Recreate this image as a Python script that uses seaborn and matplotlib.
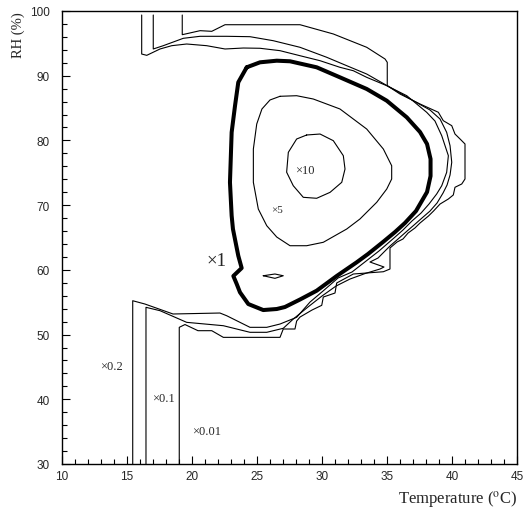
import numpy as np
import pandas as pd
import matplotlib
matplotlib.use("Agg")
import matplotlib.pyplot as plt
import seaborn as sns
from matplotlib.ticker import MultipleLocator

# ---------------- data ----------------
# axis ticks
x_ticks = [10, 15, 20, 25, 30, 35, 40, 45]
y_ticks = [30, 40, 50, 60, 70, 80, 90, 100]

# contour x10 (closed)
c10_T = [28.82, 29.85, 30.87, 31.64, 31.77, 31.52, 30.62, 29.59, 28.56, 27.79, 27.28, 27.41, 28.05]
c10_RH = [80.84, 80.99, 79.96, 77.64, 75.58, 73.53, 71.98, 71.06, 71.21, 73.0, 75.09, 78.16, 80.22]

# contour x5 (closed)
c5_T = [26.77, 28.05, 29.33, 31.38, 33.44, 34.72, 35.36, 35.36, 34.98, 34.21, 32.92, 31.9, 30.1,
        28.82, 27.54, 26.52, 25.75, 25.1, 24.72, 24.72, 24.98, 25.38, 26.0]
c5_RH = [86.82, 86.91, 86.40, 84.86, 81.76, 78.67, 76.09, 74.04, 72.49, 70.44, 67.86, 66.31, 64.26,
         63.73, 63.73, 65.07, 66.82, 69.40, 73.53, 78.67, 82.54, 84.86, 86.25]

# contour x1 (closed, thick)
c1_T = [24.21, 25.23, 26.52, 27.54, 29.59, 31.38, 33.44, 34.98, 36.52, 37.54, 38.08, 38.35, 38.35,
        38.08, 37.23, 36.38, 35.62, 34.69, 33.54, 32.67, 31.13, 29.59, 28.31, 27.15, 26.52, 25.48,
        24.33, 23.69, 23.44, 23.18, 23.82, 23.56, 23.15, 23.05, 22.92, 23.05, 23.31, 23.56]
c1_RH = [91.30, 92.07, 92.32, 92.23, 91.30, 89.75, 87.95, 86.14, 83.57, 81.30, 79.45, 77.13, 74.50,
         72.03, 69.09, 67.24, 65.85, 64.30, 62.45, 61.17, 59.05, 56.78, 55.42, 54.26, 53.95, 53.79,
         54.72, 56.53, 57.81, 59.05, 60.28, 62.18, 66.31, 68.37, 73.53, 81.25, 85.37, 88.98]

# small island of x1 level (closed)
c1b_T = [25.48, 26.38, 27.02, 26.38]
c1b_RH = [59.09, 59.36, 59.09, 58.69]

# open contour x0.2
c02_T = [15.44, 15.44, 16.38, 18.54, 22.15, 22.67, 24.46, 25.75, 26.77, 28.05, 29.08, 30.08, 31.23,
         32.31, 33.0, 33.69, 34.38, 35.0, 35.62, 36.23, 36.92, 37.62, 38.23, 38.82, 39.21, 39.59,
         39.72, 39.21, 38.69, 38.05, 36.52, 34.98, 33.44, 32.41, 31.38, 29.85, 28.31, 26.77, 25.23,
         23.95, 22.54, 21.13, 19.59, 18.44, 17.54, 16.52, 16.13, 16.13]
c02_RH = [30.0, 55.23, 54.72, 53.18, 53.33, 52.91, 51.12, 51.12, 51.63, 52.67, 55.03, 56.73, 58.74,
          59.67, 60.75, 61.83, 62.91, 63.99, 65.07, 66.16, 67.55, 68.78, 70.17, 71.72, 73.0, 75.07,
          77.64, 80.73, 83.0, 84.35, 86.91, 88.46, 89.75, 90.77, 91.30, 92.32, 93.09, 93.87, 94.24,
          94.28, 94.13, 94.64, 94.9, 94.64, 94.13, 93.15, 93.35, 99.38]

# open contour x0.1
c01_T = [16.46, 16.46, 17.54, 19.59, 22.41, 24.46, 25.75, 27.02, 27.79, 28.92, 30.0, 31.08, 32.15,
         33.31, 34.46, 34.77, 33.69, 34.31, 34.77, 35.23, 35.85, 36.46, 37.08, 37.69, 38.31, 38.85,
         39.31, 39.62, 39.85, 39.98, 39.85, 39.59, 39.08, 38.31, 37.02, 35.23, 33.44, 31.9, 30.36,
         28.31, 26.25, 24.46, 22.67, 20.62, 19.33, 17.79, 17.02, 17.02]
c01_RH = [30.0, 54.21, 53.69, 51.89, 51.37, 50.35, 50.35, 50.97, 52.40, 54.26, 55.96, 57.50, 58.58,
          59.43, 60.13, 60.44, 61.21, 61.83, 62.76, 63.68, 64.77, 65.85, 66.93, 68.01, 69.09, 70.33,
          71.87, 73.11, 74.66, 76.62, 79.18, 81.25, 83.31, 84.70, 86.14, 88.21, 90.26, 91.55, 92.85,
          94.39, 95.41, 96.03, 96.09, 96.09, 95.78, 94.64, 94.13, 99.38]

# open contour x0.01
c001_T = [19.02, 19.02, 19.46, 20.46, 21.52, 22.41, 26.77, 27.02, 27.92, 28.05, 28.31, 29.23, 29.98,
          30.1, 31.0, 31.13, 32.41, 34.72, 35.23, 35.23, 35.77, 36.23, 36.62, 37.15, 37.54, 38.19,
          38.58, 39.08, 39.72, 40.1, 40.23, 40.75, 41.0, 41.0, 40.62, 40.23, 39.98, 39.33, 38.95,
          37.54, 36.0, 35.02, 35.02, 34.85, 33.44, 30.87, 28.31, 22.54, 21.52, 20.62, 19.72, 19.25,
          19.25]
c001_RH = [30.0, 51.12, 51.55, 50.6, 50.6, 49.57, 49.57, 50.86, 50.86, 52.09, 52.71, 53.79, 54.52,
           55.80, 56.42, 57.97, 59.36, 59.71, 60.13, 63.38, 64.30, 64.77, 65.69, 66.47, 67.24, 68.32,
           69.09, 70.17, 70.95, 71.57, 72.76, 73.27, 74.04, 79.45, 80.22, 80.99, 82.28, 83.05, 84.35,
           85.63, 87.17, 88.46, 92.07, 92.58, 94.39, 96.45, 97.88, 97.88, 96.86, 96.96, 96.55, 96.34,
           99.38]

# level labels
lab_text = ["×10", "×5", "×1", "×0.2", "×0.1", "×0.01"]
lab_T = [28.7, 26.5, 21.85, 13.8, 17.8, 21.1]
lab_RH = [75.4, 69.4, 61.5, 45.1, 40.2, 35.1]
lab_size = [9, 8, 13.5, 9, 9, 9]

# ---------------- drawing ----------------
sns.set_style("white")
plt.rcParams['font.family'] = ['Liberation Serif', 'DejaVu Serif']
plt.rcParams['mathtext.fontset'] = 'stix'

fig = plt.figure(figsize=(5.27, 5.10), dpi=100)
ax = fig.add_axes([62 / 527, 45 / 510, 455 / 527, 453 / 510])


def draw(xs, ys, lw, closed=False):
    xs = list(xs)
    ys = list(ys)
    if closed:
        xs.append(xs[0])
        ys.append(ys[0])
    df = pd.DataFrame({"T": xs, "RH": ys})
    sns.lineplot(data=df, x="T", y="RH", sort=False, estimator=None,
                 color="black", lw=lw, ax=ax, legend=False)


draw(c02_T, c02_RH, 0.8)
draw(c01_T, c01_RH, 0.8)
draw(c001_T, c001_RH, 0.8)
draw(c10_T, c10_RH, 0.8, closed=True)
draw(c5_T, c5_RH, 0.8, closed=True)
draw(c1b_T, c1b_RH, 0.8, closed=True)
draw(c1_T, c1_RH, 2.9, closed=True)

for t, x, y, s in zip(lab_text, lab_T, lab_RH, lab_size):
    ax.text(x, y, t, fontsize=s, ha="center", va="center",
            family=["Liberation Serif", "DejaVu Serif"])

ax.set_xlim(10, 45)
ax.set_ylim(30, 100)
ax.set_xticks(x_ticks)
ax.set_yticks(y_ticks)
ax.xaxis.set_minor_locator(MultipleLocator(1))
ax.yaxis.set_minor_locator(MultipleLocator(2))
ax.tick_params(which="both", direction="in", top=False, right=False,
               bottom=True, left=True, color="black", width=0.8)
ax.tick_params(which="major", length=5.8, labelsize=8.5)
ax.tick_params(which="minor", length=3.6)
ax.tick_params(axis="x", pad=4)
ax.tick_params(axis="y", pad=9)
for lab in ax.get_xticklabels() + ax.get_yticklabels():
    lab.set_family(["Liberation Sans", "DejaVu Sans"])
for sp in ax.spines.values():
    sp.set_visible(True)
    sp.set_color("black")
    sp.set_linewidth(1.0)
ax.grid(False)

ax.set_xlabel(r"Temperature ($^{\rm o}$C)", fontsize=12, loc="right", labelpad=5)
ax.set_ylabel("RH (%)", fontsize=10.5, loc="top", labelpad=3)

fig.savefig("out.png", dpi=100)
